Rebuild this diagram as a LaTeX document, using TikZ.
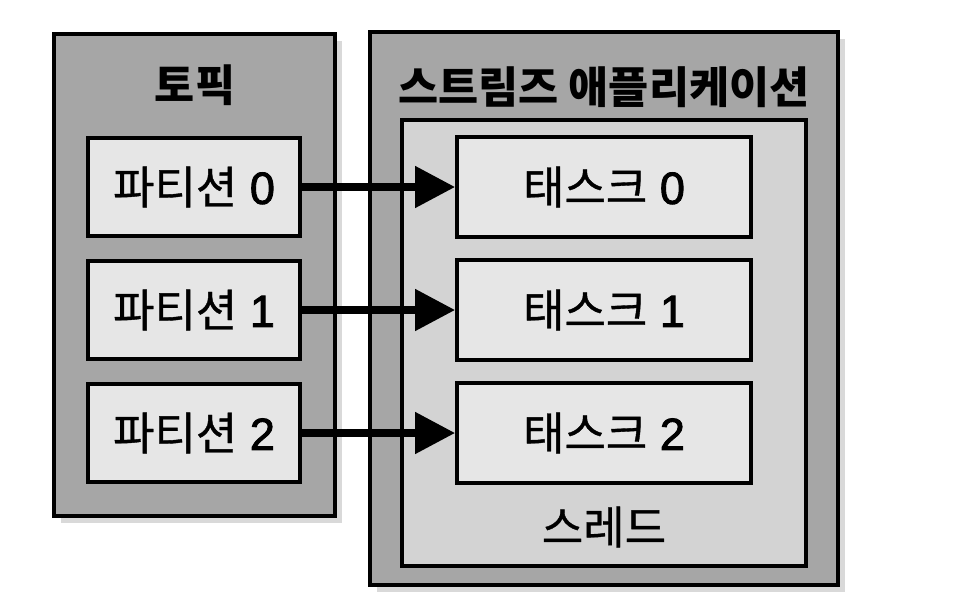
\documentclass[tikz,border=0pt]{standalone}
\usepackage{fontspec}
\setmainfont{Noto Sans CJK KR}
\newfontfamily\medfont[FakeBold=0.8]{Noto Sans CJK KR}
\newfontfamily\digitfont[FakeBold=2]{Liberation Sans}
\usetikzlibrary{arrows.meta,shadows}

\definecolor{boxdark}{HTML}{A6A6A6}
\definecolor{boxmid}{HTML}{D3D3D3}
\definecolor{boxlight}{HTML}{E6E6E6}

\tikzset{
  frame/.style={draw, line width=2.6pt, inner sep=0pt},
  outerbox/.style={frame, fill=boxdark, drop shadow={shadow xshift=5pt, shadow yshift=-5pt, opacity=0.3}},
  threadbox/.style={frame, fill=boxmid},
  itembox/.style={frame, fill=boxlight, font=\fontsize{32}{36}\selectfont\medfont},
  title/.style={font=\fontsize{31}{36}\selectfont\bfseries},
  flow/.style={line width=5.5pt, -{Triangle[length=1cm,width=1cm]}}
}

\newcommand{\itemnum}[1]{\hspace{0.28em}{\digitfont#1}}

\begin{document}
\begin{tikzpicture}[x=0.025cm, y=-0.025cm]

        \useasboundingbox (0,0) rectangle (956,608);

        \node[outerbox, minimum width=7.025cm, minimum height=12.05cm] (topic) at (194.5,275) {};
        \node[title] (topictitle) at (195,85) {토픽};

        \node[outerbox, minimum width=11.7cm, minimum height=13.825cm] (app) at (604,308.5) {};
        \node[title] (apptitle) at (604,87) {스트림즈 애플리케이션};

        \node[threadbox, minimum width=10.1cm, minimum height=11.15cm] (thread) at (604,343) {};
        \node[font=\fontsize{32}{36}\selectfont\medfont] (threadtitle) at (604,527) {스레드};

        \foreach \i/\y in {0/187,1/310,2/433}
        {
            \node[itembox, minimum width=5.3cm, minimum height=2.45cm] (p\i) at (194,\y) {파티션\itemnum{\i}};
            \node[itembox, minimum width=7.35cm, minimum height=2.5cm] (t\i) at (604,\y) {태스크\itemnum{\i}};
            \draw[flow] (p\i) -- (t\i);
        }
    \end{tikzpicture}
\end{document}
